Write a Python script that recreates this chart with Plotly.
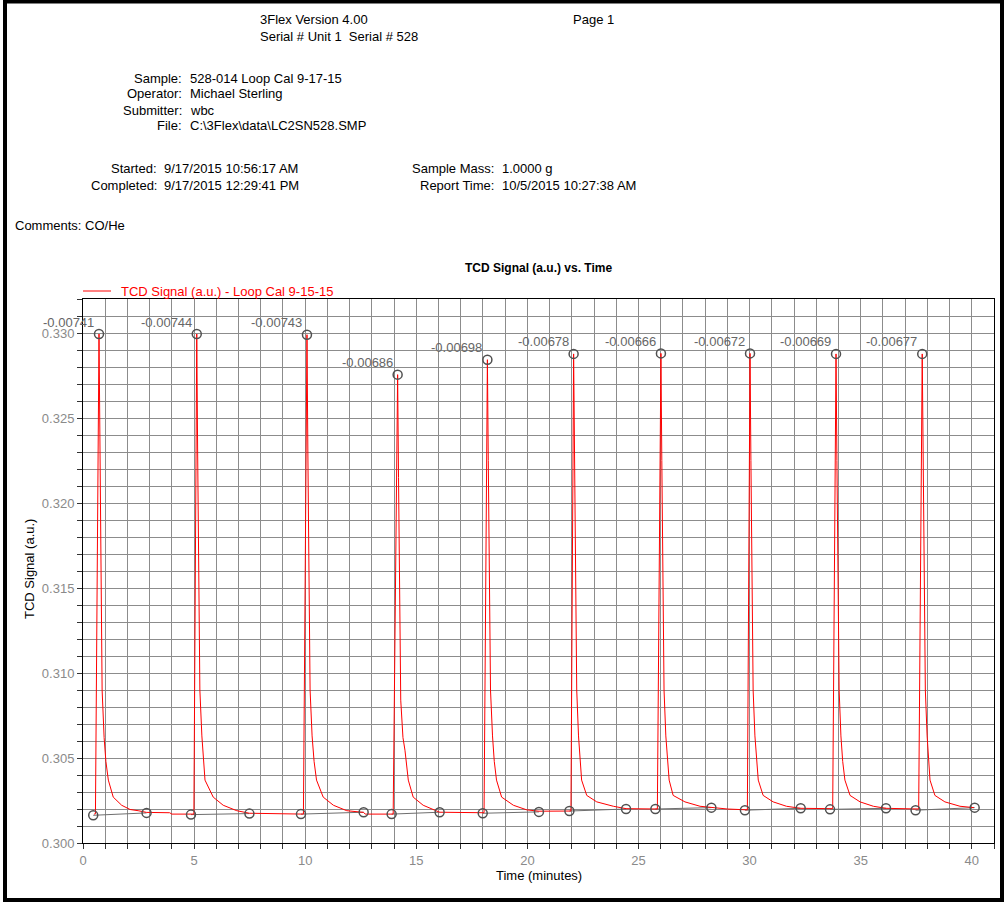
import plotly.graph_objects as go

# ---------------- data ----------------
peak_times = [0.72, 5.12, 10.08, 14.16, 18.20, 22.08, 26.01, 30.02, 33.89, 37.77]
peak_heights = [0.32994, 0.32994, 0.32990, 0.32755, 0.32843, 0.32877, 0.32880, 0.32880, 0.32877, 0.32877]
peak_labels = ["-0.00741", "-0.00744", "-0.00743", "-0.00686", "-0.00698",
               "-0.00678", "-0.00666", "-0.00672", "-0.00669", "-0.00677"]

base_start_t = [0.46, 4.86, 9.81, 13.89, 17.99, 21.89, 25.76, 29.79, 33.62, 37.47]
base_start_y = [0.30163, 0.30167, 0.30170, 0.30170, 0.30175, 0.30188, 0.30200, 0.30193, 0.30198, 0.30193]
base_end_t = [2.86, 7.49, 12.63, 16.05, 20.52, 24.44, 28.28, 32.30, 36.14, 40.13]
base_end_y = [0.30177, 0.30173, 0.30181, 0.30181, 0.30183, 0.30200, 0.30208, 0.30204, 0.30204, 0.30208]

# TCD signal trace (minutes, a.u.)
time_min = [
    0.50, 0.56, 0.72, 0.76, 0.80, 0.86, 0.95, 1.03, 1.14, 1.36, 1.74, 2.12, 2.48, 2.86, 3.90, 4.00,
    4.99, 5.12, 5.16, 5.20, 5.26, 5.35, 5.42, 5.49, 5.86, 6.31, 6.92, 7.49,
    9.92, 10.08, 10.12, 10.16, 10.22, 10.31, 10.40, 10.51, 10.81, 11.27, 11.87, 12.63, 12.70,
    13.96, 14.16, 14.20, 14.24, 14.30, 14.40, 14.49, 14.64, 14.86, 15.31, 15.91, 16.05,
    18.05, 18.20, 18.24, 18.28, 18.34, 18.43, 18.51, 18.61, 18.84, 19.37, 19.97, 20.52,
    21.96, 22.08, 22.12, 22.16, 22.22, 22.30, 22.37, 22.44, 22.67, 23.12, 23.87, 24.44,
    25.85, 26.01, 26.05, 26.09, 26.15, 26.23, 26.30, 26.38, 26.56, 27.09, 27.77, 28.28, 29.00,
    29.90, 30.02, 30.06, 30.10, 30.16, 30.24, 30.31, 30.39, 30.61, 31.06, 31.66, 32.30,
    33.74, 33.89, 33.93, 33.97, 34.03, 34.11, 34.19, 34.29, 34.52, 34.97, 35.57, 36.14,
    37.61, 37.77, 37.81, 37.85, 37.91, 37.99, 38.05, 38.12, 38.34, 38.79, 39.47, 40.10,
]
signal = [
    0.30170, 0.30172, 0.32994, 0.32300, 0.31500, 0.30900, 0.30620, 0.30480, 0.30370, 0.30270, 0.30222, 0.30197, 0.30190, 0.30180, 0.30178, 0.30170,
    0.30170, 0.32994, 0.32300, 0.31500, 0.30900, 0.30630, 0.30480, 0.30370, 0.30270, 0.30222, 0.30190, 0.30175,
    0.30170, 0.32990, 0.32300, 0.31500, 0.30900, 0.30630, 0.30480, 0.30370, 0.30270, 0.30222, 0.30190, 0.30180, 0.30170,
    0.30170, 0.32755, 0.32150, 0.31450, 0.30840, 0.30620, 0.30546, 0.30370, 0.30270, 0.30222, 0.30190, 0.30181,
    0.30178, 0.32843, 0.32250, 0.31500, 0.30900, 0.30630, 0.30480, 0.30370, 0.30270, 0.30222, 0.30195, 0.30187,
    0.30188, 0.32877, 0.32250, 0.31500, 0.30900, 0.30630, 0.30480, 0.30370, 0.30280, 0.30242, 0.30216, 0.30202,
    0.30200, 0.32880, 0.32250, 0.31500, 0.30900, 0.30630, 0.30480, 0.30370, 0.30280, 0.30242, 0.30216, 0.30208, 0.30200,
    0.30195, 0.32880, 0.32250, 0.31500, 0.30900, 0.30630, 0.30480, 0.30370, 0.30280, 0.30242, 0.30216, 0.30204,
    0.30202, 0.32877, 0.32250, 0.31500, 0.30900, 0.30630, 0.30480, 0.30370, 0.30280, 0.30242, 0.30216, 0.30204,
    0.30200, 0.32877, 0.32250, 0.31500, 0.30900, 0.30630, 0.30480, 0.30370, 0.30280, 0.30242, 0.30216, 0.30208,
]

x_range = [0, 41]
y_range = [0.300, 0.332]

header_lines = [
    ("3Flex Version 4.00", 258, 20, "left"),
    ("Serial # Unit 1\u00a0\u00a0Serial # 528", 258, 37, "left"),
    ("Page 1", 571, 20, "left"),
]
info_labels = ["Sample:", "Operator:", "Submitter:", "File:"]
info_values = ["528-014 Loop Cal 9-17-15", "Michael Sterling", "wbc", "C:\\3Flex\\data\\LC2SN528.SMP"]
time_labels = ["Started:", "Completed:"]
time_values = ["9/17/2015 10:56:17 AM", "9/17/2015 12:29:41 PM"]
mass_labels = ["Sample Mass:", "Report Time:"]
mass_values = ["1.0000 g", "10/5/2015 10:27:38 AM"]

# ---------------- layout geometry (pixels) ----------------
W, H = 1005, 903
L, R, T, B = 83, 994, 299, 843
FONT = "Liberation Sans, Arial, sans-serif"


def px(x):
    return (x - L) / (R - L)


def py(y):
    return (B - y) / (B - T)


fig = go.Figure()

# integration baselines
bx, by = [], []
for s, sy, e, ey in zip(base_start_t, base_start_y, base_end_t, base_end_y):
    bx += [s, e, None]
    by += [sy, ey, None]
fig.add_trace(go.Scatter(x=bx, y=by, mode="lines", line=dict(color="#6e6e6e", width=1),
                         showlegend=False, hoverinfo="skip"))

# signal
fig.add_trace(go.Scatter(x=time_min, y=signal, mode="lines",
                         line=dict(color="#ff0000", width=1),
                         name="TCD Signal (a.u.) - Loop Cal 9-15-15", showlegend=False))

marker_style = dict(symbol="circle-open", size=9, color="#505050", line=dict(width=1.5))
fig.add_trace(go.Scatter(x=base_start_t + base_end_t, y=base_start_y + base_end_y, mode="markers",
                         marker=marker_style, showlegend=False, cliponaxis=False))
fig.add_trace(go.Scatter(x=peak_times, y=peak_heights, mode="markers",
                         marker=marker_style, showlegend=False, cliponaxis=False))

annotations = []
for t, h, lab in zip(peak_times, peak_heights, peak_labels):
    annotations.append(dict(x=t, y=h, xref="x", yref="y", text=lab, showarrow=False,
                            xanchor="right", yanchor="middle", xshift=-3, yshift=12,
                            font=dict(family=FONT, size=13, color="#666666")))


def text(s, x, y, anchor="left", size=13, color="#000000", bold=False, angle=0):
    annotations.append(dict(x=px(x), y=py(y), xref="paper", yref="paper",
                            text=("<b>%s</b>" % s) if bold else s, showarrow=False,
                            xanchor=anchor, yanchor="middle", textangle=angle,
                            font=dict(family=FONT, size=size, color=color)))


for s, x, y, a in header_lines:
    text(s, x, y, a)
for i, (lab, val) in enumerate(zip(info_labels, info_values)):
    yy = 78 + 16 * i
    text(lab, 184, yy, "right")
    text(val, 188, yy, "left")
for i, (lab, val) in enumerate(zip(time_labels, time_values)):
    yy = 169 + 16 * i
    text(lab, 159, yy, "right")
    text(val, 162, yy, "left")
for i, (lab, val) in enumerate(zip(mass_labels, mass_values)):
    yy = 169 + 16 * i
    text(lab, 496, yy, "right")
    text(val, 500, yy, "left")
text("Comments: CO/He", 13, 226, "left")

text("TCD Signal (a.u.) vs. Time", (L + R) / 2, 268, "center", size=12, bold=True)
text("TCD Signal (a.u.) - Loop Cal 9-15-15", 119, 291, "left", color="#ff0000")
text("Time (minutes)", (L + R) / 2, 875, "center")
text("TCD Signal (a.u.)", 29, 569, "center", angle=-90)

shapes = [
    # legend line sample
    dict(type="line", xref="paper", yref="paper", x0=px(83), x1=px(111), y0=py(291), y1=py(291),
         line=dict(color="#ff0000", width=1)),
    # page border
    dict(type="rect", xref="paper", yref="paper", x0=px(5), x1=px(1002), y0=py(900), y1=py(1.5),
         line=dict(color="#000000", width=4), fillcolor="rgba(0,0,0,0)", layer="above"),
]

grid = "#8c8c8c"
tickfont = dict(family=FONT, size=13, color="#8a8a8a")
fig.update_layout(
    width=W, height=H, autosize=False,
    margin=dict(l=L, r=W - R, t=T, b=H - B, pad=0),
    paper_bgcolor="white", plot_bgcolor="white",
    showlegend=False,
    annotations=annotations, shapes=shapes,
    xaxis=dict(range=x_range, dtick=5, tick0=0, ticks="outside", ticklen=5, tickcolor="#333333",
               showgrid=True, gridcolor=grid, gridwidth=1, zeroline=False,
               showline=True, linecolor="#000000", linewidth=1, mirror=True,
               tickfont=tickfont,
               minor=dict(dtick=1, tick0=0, ticks="outside", ticklen=5, tickcolor="#333333",
                          showgrid=True, gridcolor=grid, gridwidth=1)),
    yaxis=dict(range=y_range, dtick=0.005, tick0=0.3, tickformat=".3f", ticks="outside", ticklen=5,
               tickcolor="#333333", showgrid=True, gridcolor=grid, gridwidth=1, zeroline=False,
               showline=True, linecolor="#000000", linewidth=1, mirror=True,
               tickfont=tickfont,
               minor=dict(dtick=0.001, tick0=0.3, ticks="outside", ticklen=5, tickcolor="#333333",
                          showgrid=True, gridcolor=grid, gridwidth=1)),
)

fig.write_html("out.html", config={"displayModeBar": False},
               post_script="document.body.style.margin='0';document.body.style.overflow='hidden';")
